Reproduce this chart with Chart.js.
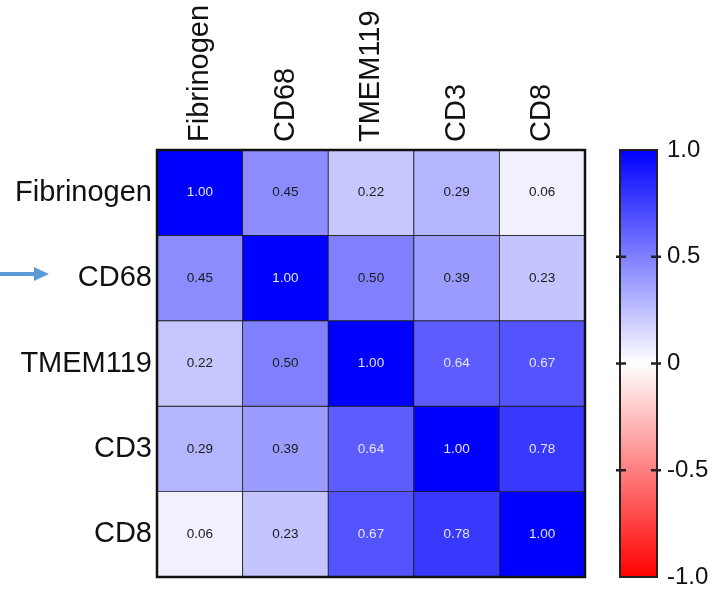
<!DOCTYPE html>
<html>
<head>
<meta charset="utf-8">
<script src="https://cdn.jsdelivr.net/npm/chart.js@4.4.0/dist/chart.umd.min.js"></script>
<style>
  body { margin: 0; background: #fff; }
  canvas { display: block; }
</style>
</head>
<body>
<canvas id="heatmap" width="717" height="591"></canvas>
<script>
// markers, same order on both axes
const markers = ['Fibrinogen', 'CD68', 'TMEM119', 'CD3', 'CD8'];

// correlation rows (r values)
const fibrinogenRow = [1.00, 0.45, 0.22, 0.29, 0.06];
const cd68Row = [0.45, 1.00, 0.50, 0.39, 0.23];
const tmem119Row = [0.22, 0.50, 1.00, 0.64, 0.67];
const cd3Row = [0.29, 0.39, 0.64, 1.00, 0.78];
const cd8Row = [0.06, 0.23, 0.67, 0.78, 1.00];
const matrix = [fibrinogenRow, cd68Row, tmem119Row, cd3Row, cd8Row];

// colour bar ticks
const colorbarTicks = [-1, -0.5, 0, 0.5, 1];

const FONT = "'Liberation Sans', Arial, sans-serif";

// white -> blue for positive, white -> red for negative
const colorFor = (v) => {
    const t = Math.min(1, Math.abs(v));
    const c = Math.round(255 * (1 - t));
    return v >= 0 ? `rgb(${c},${c},255)` : `rgb(255,${c},${c})`;
};

const nRows = markers.length;

// one floating bar dataset per row, row 0 on top
const datasets = matrix.map((row, i) => ({
    label: markers[i],
    data: row.map(() => [nRows - 1 - i, nRows - i]),
    backgroundColor: row.map(colorFor),
    borderColor: '#1e1e1e',
    borderWidth: 0.8,
    borderSkipped: false,
    grouped: false,
    barPercentage: 1,
    categoryPercentage: 1,
}));

// vertical axes would otherwise reserve room for half a label above and below
const noPadding = (s) => {
    s.paddingTop = 0;
    s.paddingBottom = 0;
};

// numbers inside the cells + outer frame
const cellText = {
    id: 'cellText',
    afterDatasetsDraw(chart) {
        const ctx = chart.ctx;
        ctx.save();
        ctx.font = `13.5px ${FONT}`;
        ctx.textAlign = 'center';
        ctx.textBaseline = 'middle';
        matrix.forEach((row, i) => {
            const meta = chart.getDatasetMeta(i);
            meta.data.forEach((bar, j) => {
                const v = row[j];
                ctx.fillStyle = v >= 0.6 ? '#e4e4f4' : '#1a1a1a';
                ctx.fillText(v.toFixed(2), bar.x, (bar.y + bar.base) / 2);
            });
        });
        const a = chart.chartArea;
        ctx.strokeStyle = '#111';
        ctx.lineWidth = 2.5;
        ctx.strokeRect(a.left, a.top, a.right - a.left, a.bottom - a.top);
        ctx.restore();
    }
};

// colour bar drawn on the 'cb' scale
const colorbar = {
    id: 'colorbar',
    afterDraw(chart) {
        const s = chart.scales.cb;
        const ctx = chart.ctx;
        const top = s.getPixelForValue(1);
        const bottom = s.getPixelForValue(-1);
        const x0 = s.left + 35;
        const w = 37;
        ctx.save();
        const g = ctx.createLinearGradient(0, top, 0, bottom);
        g.addColorStop(0, colorFor(1));
        g.addColorStop(0.5, '#ffffff');
        g.addColorStop(1, colorFor(-1));
        ctx.fillStyle = g;
        ctx.fillRect(x0, top, w, bottom - top);
        ctx.strokeStyle = '#222';
        ctx.lineWidth = 2;
        ctx.strokeRect(x0, top, w, bottom - top);
        ctx.lineWidth = 2.5;
        colorbarTicks.forEach(v => {
            if (Math.abs(v) === 1) return;
            const y = s.getPixelForValue(v);
            ctx.beginPath();
            ctx.moveTo(x0 - 4, y); ctx.lineTo(x0 + 6, y);
            ctx.moveTo(x0 + w - 6, y); ctx.lineTo(x0 + w + 4, y);
            ctx.stroke();
        });
        ctx.restore();
    }
};

// the arrow pointing at CD68
const arrow = {
    id: 'arrow',
    afterDraw(chart) {
        const ctx = chart.ctx;
        const y = chart.scales.y.getPixelForValue(nRows - 1.5) - 4;
        ctx.save();
        ctx.strokeStyle = '#5b9bd5';
        ctx.fillStyle = '#5b9bd5';
        ctx.lineWidth = 4;
        ctx.beginPath();
        ctx.moveTo(0, y); ctx.lineTo(36, y);
        ctx.stroke();
        ctx.beginPath();
        ctx.moveTo(49, y); ctx.lineTo(34, y - 7); ctx.lineTo(34, y + 7);
        ctx.closePath();
        ctx.fill();
        ctx.restore();
    }
};

new Chart(document.getElementById('heatmap'), {
    type: 'bar',
    data: { labels: markers, datasets: datasets },
    options: {
        responsive: false,
        animation: false,
        layout: { padding: { top: 0, bottom: 14, left: 0, right: 0 } },
        plugins: { legend: { display: false }, tooltip: { enabled: false } },
        scales: {
            x: {
                type: 'category',
                position: 'top',
                offset: true,
                grid: { display: false, drawTicks: false },
                border: { display: false },
                ticks: {
                    autoSkip: false,
                    minRotation: 90,
                    maxRotation: 90,
                    padding: 8,
                    labelOffset: 35,  // rotated top labels are drawn one line to the left
                    color: '#111',
                    font: { family: FONT, size: 29 }
                },
                afterFit: (s) => {
                    s.height = 150;
                    s.paddingLeft = 0;
                    s.paddingRight = 0;
                }
            },
            y: {
                type: 'linear',
                min: 0,
                max: nRows,
                grid: { display: false, drawTicks: false },
                border: { display: false },
                afterBuildTicks: (s) => {
                    s.ticks = markers.map((_, i) => ({ value: nRows - 0.5 - i }));
                },
                ticks: {
                    padding: 5,
                    color: '#111',
                    font: { family: FONT, size: 29 },
                    callback: (v) => markers[Math.round(nRows - 0.5 - v)]
                },
                afterFit: (s) => {
                    s.width = 157;
                    noPadding(s);
                }
            },
            cb: {
                type: 'linear',
                position: 'right',
                min: -1,
                max: 1,
                // invisible tick marks push the labels past the colour bar
                grid: { display: true, drawOnChartArea: false, drawTicks: true, tickLength: 80, color: 'transparent' },
                border: { display: false },
                afterBuildTicks: (s) => {
                    s.ticks = colorbarTicks.map(v => ({ value: v }));
                },
                ticks: {
                    padding: 2,
                    color: '#111',
                    font: { family: FONT, size: 24 },
                    callback: (v) => (v === 0 ? '0' : v.toFixed(1))
                },
                afterFit: (s) => {
                    s.width = 132;
                    noPadding(s);
                }
            }
        }
    },
    plugins: [cellText, colorbar, arrow]
});
</script>
</body>
</html>
